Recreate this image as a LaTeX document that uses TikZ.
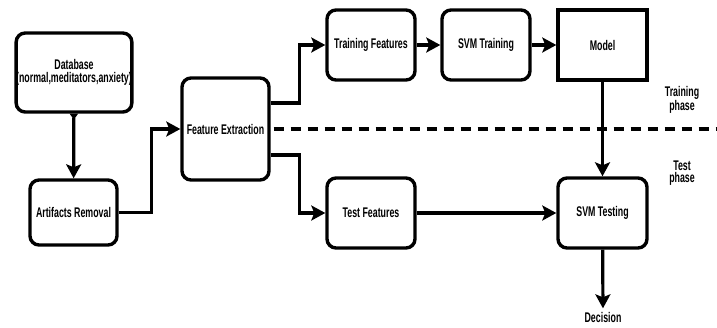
\documentclass[tikz,border=0pt]{standalone}
\usepackage{fontspec}
\setmainfont{Liberation Sans}[FakeStretch=0.63]
\usetikzlibrary{arrows.meta}
\begin{document}
\begin{tikzpicture}[x=1pt,y=-1pt,
        every node/.style={font=\fontsize{14}{12.5}\selectfont\bfseries},
        box/.style={draw,line width=3.4pt,rounded corners=9pt,align=center,inner sep=0pt,minimum width=88pt,minimum height=70pt},
        flow/.style={line width=3.2pt,-{Stealth[length=14pt,width=15pt,inset=3pt]}},
        phase/.style={align=center}]
                \useasboundingbox (0,0) rectangle (717,327);
                \node[box,minimum width=114pt,minimum height=79pt] (db) at (74,72.5) {Database\\(normal,meditators,anxiety)};
                \node[box,minimum width=87pt,minimum height=65pt] (ar) at (73.5,212.5) {Artifacts Removal};
                \node[box,minimum width=87pt,minimum height=102pt] (fe) at (225.5,129) {Feature Extraction};
                \node[box] (trf) at (371,45) {Training Features};
                \node[box] (svmtr) at (486,45) {SVM Training};
                \node[box,rounded corners=0pt,minimum width=89pt] (model) at (602.5,45) {Model};
                \node[box] (tef) at (371,213) {Test Features};
                \node[box,minimum width=89pt] (svmte) at (602.5,213) {SVM Testing};
                \node (dec) at (603,317) {Decision};
                \node[phase] (trph) at (682,100) {Training\\phase};
                \node[phase] (teph) at (682,173) {Test\\phase};
                \draw[line width=4pt,dash pattern=on 10pt off 7pt] ([xshift=3pt]fe.east) -- (717,129);
                \draw[flow,{Triangle[reversed,length=6pt,width=8pt]}-{Stealth[length=14pt,width=15pt,inset=3pt]}] (db) -- (ar);
                \draw[flow] (ar.east) -- ++(33,0) |- (fe.west);
                \draw[flow] ([yshift=26pt]fe.east) -- ++(29,0) |- (trf.west);
                \draw[flow] ([yshift=-26pt]fe.east) -- ++(29,0) |- (tef.west);
                \draw[flow] (trf) -- (svmtr);
                \draw[flow] (svmtr) -- (model);
                \draw[flow] (model) -- (svmte);
                \draw[flow] (tef) -- (svmte);
                \draw[flow] (svmte) -- (dec);
            \end{tikzpicture}
\end{document}
